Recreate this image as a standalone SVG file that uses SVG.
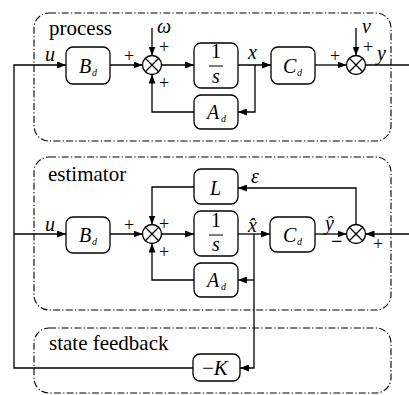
<svg xmlns="http://www.w3.org/2000/svg" width="409" height="395" viewBox="0 0 409 395" font-family="'Liberation Serif', 'DejaVu Serif', serif">
  <style>
    .region { fill: none; stroke: #000; stroke-width: 1.1; stroke-dasharray: 7 2.2 1.3 2.2; }
    .blk { fill: #fff; stroke: #000; stroke-width: 1.3; }
    .sum { fill: #fff; stroke: #000; stroke-width: 1.3; }
    .wire { fill: none; stroke: #000; stroke-width: 1.3; }
    .arrow { marker-end: url(#head); }
    text { font-family: 'Liberation Serif', 'DejaVu Serif', serif; fill: #000; }
    .title { font-size: 21px; }
    .sym { font-size: 20px; font-style: italic; }
    .sub { font-size: 10px; font-style: italic; }
    .sign { font-size: 18px; }
  </style>
  <defs>
    <marker id="head" markerUnits="userSpaceOnUse" markerWidth="9" markerHeight="7" refX="9" refY="3.5" orient="auto">
      <path d="M0,0 L9,3.5 L0,7 z" fill="#000"/>
    </marker>
  </defs>

  <!-- dash-dot region frames -->
  <g id="regions">
    <rect class="region" x="34" y="13" width="357" height="128" rx="15"/>
    <rect class="region" x="34" y="157" width="357" height="153" rx="15"/>
    <rect class="region" x="34" y="328" width="357" height="65" rx="15"/>
    <text class="title" x="49" y="35">process</text>
    <text class="title" x="48" y="181">estimator</text>
    <text class="title" x="49" y="350">state feedback</text>
  </g>

  <!-- signal lines -->
  <g id="connectors">
    <path class="wire arrow" d="M193,368 H14 V65 H66"/>
    <path class="wire arrow" d="M14,234 H66"/>
    <!-- process loop -->
    <path class="wire arrow" d="M110,65 H142.5"/>
    <path class="wire arrow" d="M152,28 V55.5"/>
    <path class="wire arrow" d="M161.5,65 H194"/>
    <path class="wire arrow" d="M238,65 H271"/>
    <path class="wire arrow" d="M255,65 V112 H238"/>
    <path class="wire arrow" d="M194,112 H152 V74.5"/>
    <path class="wire arrow" d="M315,65 H346.5"/>
    <path class="wire arrow" d="M356,28 V55.5"/>
    <path class="wire" d="M365.5,65 H409"/>
    <!-- estimator loop -->
    <path class="wire arrow" d="M110,234 H142.5"/>
    <path class="wire arrow" d="M194,187 H152 V224.5"/>
    <path class="wire arrow" d="M161.5,234 H194"/>
    <path class="wire arrow" d="M194,280 H152 V243.5"/>
    <path class="wire arrow" d="M238,234 H270"/>
    <path class="wire arrow" d="M254,234 V368 H240"/>
    <path class="wire arrow" d="M254,280 H238"/>
    <path class="wire arrow" d="M315,234 H346.5"/>
    <path class="wire arrow" d="M409,234 H365.5"/>
    <path class="wire arrow" d="M356,224.5 V188 H238"/>
  </g>

  <!-- signal labels -->
  <g id="labels">
    <text class="sym" x="45" y="61">u</text>
    <text class="sym" x="45" y="231">u</text>
    <text class="sym" x="157" y="33">ω</text>
    <text class="sym" x="248" y="59">x</text>
    <text class="sym" x="362" y="33">v</text>
    <text class="sym" x="377" y="60">y</text>
    <text class="sym" x="251" y="183">ε</text>
    <text class="sym" x="248" y="232">x̂</text>
    <text class="sym" x="325" y="230">ŷ</text>
  </g>

  <!-- process blocks -->
  <g id="p-Bd">
    <rect class="blk" x="66" y="47" width="44" height="37" rx="7"/>
    <text class="sym" x="79" y="73">B</text><text class="sub" x="92" y="76">d</text>
  </g>
  <g id="p-sum1">
    <circle class="sum" cx="152" cy="65" r="9.5"/>
    <path class="wire" d="M145.3,58.3 L158.7,71.7 M158.7,58.3 L145.3,71.7"/>
    <text class="sign" x="124" y="62">+</text>
    <text class="sign" x="159" y="53">+</text>
    <text class="sign" x="159" y="89">+</text>
  </g>
  <g id="p-int">
    <rect class="blk" x="194" y="43" width="44" height="45" rx="7"/>
    <text class="sym" x="216" y="58" text-anchor="middle" style="font-style:normal">1</text>
    <path class="wire" d="M209,66 H223" style="stroke-width:1"/>
    <text class="sym" x="216" y="83" text-anchor="middle">s</text>
  </g>
  <g id="p-Ad">
    <rect class="blk" x="194" y="95" width="44" height="34" rx="7"/>
    <text class="sym" x="207" y="119">A</text><text class="sub" x="221" y="122">d</text>
  </g>
  <g id="p-Cd">
    <rect class="blk" x="271" y="47" width="44" height="37" rx="7"/>
    <text class="sym" x="283" y="73">C</text><text class="sub" x="297" y="76">d</text>
  </g>
  <g id="p-sum2">
    <circle class="sum" cx="356" cy="65" r="9.5"/>
    <path class="wire" d="M349.3,58.3 L362.7,71.7 M362.7,58.3 L349.3,71.7"/>
    <text class="sign" x="330" y="62">+</text>
    <text class="sign" x="363" y="53">+</text>
  </g>

  <!-- estimator blocks -->
  <g id="e-Bd">
    <rect class="blk" x="66" y="217" width="44" height="36" rx="7"/>
    <text class="sym" x="79" y="242">B</text><text class="sub" x="92" y="245">d</text>
  </g>
  <g id="e-sum1">
    <circle class="sum" cx="152" cy="234" r="9.5"/>
    <path class="wire" d="M145.3,227.3 L158.7,240.7 M158.7,227.3 L145.3,240.7"/>
    <text class="sign" x="124" y="231">+</text>
    <text class="sign" x="159" y="230">+</text>
    <text class="sign" x="159" y="258">+</text>
  </g>
  <g id="e-L">
    <rect class="blk" x="194" y="169" width="44" height="35" rx="7"/>
    <text class="sym" x="210" y="195">L</text>
  </g>
  <g id="e-int">
    <rect class="blk" x="194" y="211" width="44" height="45" rx="7"/>
    <text class="sym" x="216" y="227" text-anchor="middle" style="font-style:normal">1</text>
    <path class="wire" d="M209,235 H223" style="stroke-width:1"/>
    <text class="sym" x="216" y="251" text-anchor="middle">s</text>
  </g>
  <g id="e-Ad">
    <rect class="blk" x="194" y="263" width="44" height="34" rx="7"/>
    <text class="sym" x="207" y="287">A</text><text class="sub" x="221" y="290">d</text>
  </g>
  <g id="e-Cd">
    <rect class="blk" x="270" y="217" width="45" height="35" rx="7"/>
    <text class="sym" x="283" y="242">C</text><text class="sub" x="297" y="245">d</text>
  </g>
  <g id="e-sum2">
    <circle class="sum" cx="356" cy="234" r="9.5"/>
    <path class="wire" d="M349.3,227.3 L362.7,240.7 M362.7,227.3 L349.3,240.7"/>
    <text x="331" y="248" style="font-size:20px;font-weight:bold">−</text>
    <text class="sign" x="373" y="250">+</text>
  </g>

  <!-- feedback gain -->
  <g id="f-K">
    <rect class="blk" x="193" y="354" width="47" height="27" rx="7"/>
    <text x="202" y="375" style="font-size:21px">−<tspan style="font-style:italic">K</tspan></text>
  </g>
</svg>
